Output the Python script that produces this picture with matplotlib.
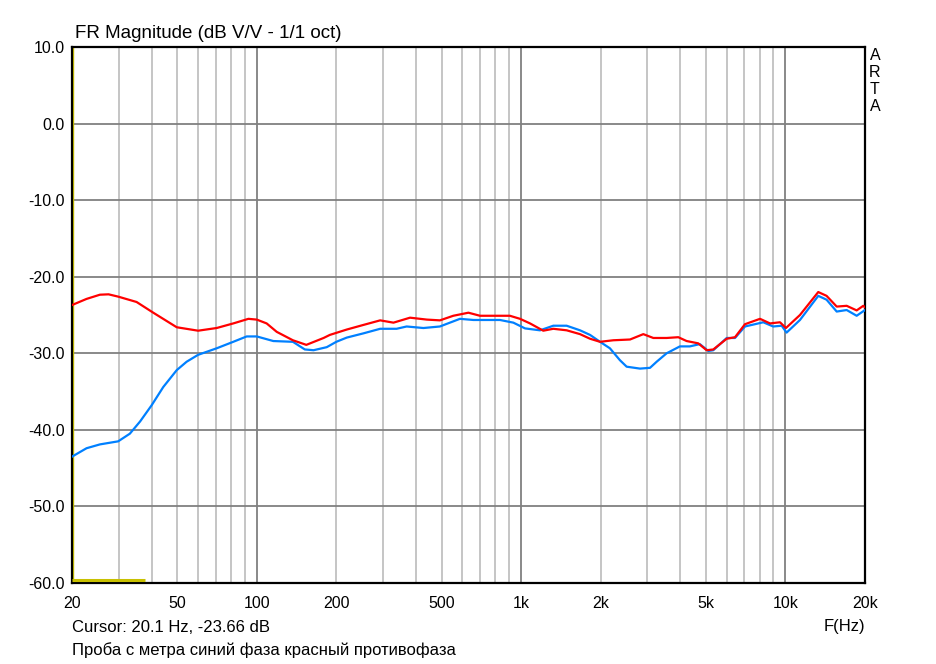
import numpy as np
import matplotlib
matplotlib.use("Agg")
import matplotlib.pyplot as plt

# red trace (counter-phase)
red_f = [20, 22.7, 25.5, 27.5, 29.9, 35.1, 40.6, 49.8, 60, 70.5, 81.5, 93, 100, 109, 119, 137, 154,
         179, 189, 219, 253, 293, 329, 380, 440, 493, 554, 632, 699, 907, 991, 1081, 1213,
         1324, 1487, 1671, 1823, 1989, 2233, 2583, 2900, 3164, 3553, 3933, 4229, 4678, 5035,
         5335, 5996, 6446, 7031, 8016, 8743, 9537, 10045, 11350, 13310, 14310, 15630, 17050,
         18600, 19700, 20000]
red_db = [-23.7, -22.9, -22.35, -22.3, -22.6, -23.3, -24.7, -26.6, -27.05, -26.7, -26.1, -25.5, -25.6,
          -26.1, -27.2, -28.3, -28.9, -28.0, -27.6, -26.9, -26.3, -25.7, -26.0, -25.35, -25.6,
          -25.7, -25.1, -24.7, -25.1, -25.1, -25.5, -26.1, -27.05, -26.8, -27.0, -27.5, -28.1,
          -28.5, -28.3, -28.2, -27.5, -28.0, -28.0, -27.9, -28.4, -28.7, -29.6, -29.5, -28.1,
          -27.9, -26.2, -25.5, -26.1, -25.95, -26.7, -25.0, -22.0, -22.5, -23.9, -23.8, -24.4,
          -23.8, -24.0]

# blue trace (in phase)
blue_f = [20, 22.7, 25.5, 29.9, 33.1, 36.2, 40, 44.3, 49.8, 54.3, 60, 70.5, 81.5, 91.6, 100,
          115.5, 137, 152, 164, 184, 200, 219, 253, 293, 338, 369, 427, 493, 587, 660, 832, 935,
          1035, 1179, 1324, 1487, 1671, 1823, 1989, 2168, 2365, 2508, 2817, 3074, 3258, 3553,
          3988, 4350, 4744, 5110, 5335, 5996, 6446, 7031, 8245, 8990, 9680, 10100, 11350,
          13310, 14310, 15630, 17050, 18600, 20000]
blue_db = [-43.5, -42.4, -41.9, -41.5, -40.5, -38.9, -36.8, -34.4, -32.2, -31.1, -30.2, -29.35,
           -28.5, -27.8, -27.8, -28.4, -28.5, -29.5, -29.6, -29.2, -28.5, -27.95, -27.4, -26.8,
           -26.8, -26.5, -26.7, -26.5, -25.5, -25.65, -25.65, -26.0, -26.75, -27.0, -26.4, -26.4,
           -27.0, -27.6, -28.5, -29.35, -30.9, -31.75, -32.0, -31.9, -31.1, -30.0, -29.1, -29.1,
           -28.8, -29.7, -29.6, -28.0, -28.0, -26.5, -25.95, -26.5, -26.4, -27.3, -25.65, -22.5,
           -23.0, -24.55, -24.35, -25.1, -24.35]

x_ticks = [20, 50, 100, 200, 500, 1000, 2000, 5000, 10000, 20000]
x_labels = ["20", "50", "100", "200", "500", "1k", "2k", "5k", "10k", "20k"]
y_ticks = [10, 0, -10, -20, -30, -40, -50, -60]

cursor_f = 20.1
marker_f = [20, 37.8]
marker_db = [-59.65, -59.65]

plt.rcParams['font.family'] = ['Liberation Sans', 'DejaVu Sans']

fig = plt.figure(figsize=(9.37, 6.64), dpi=100)
ax = fig.add_axes([72 / 937, 1 - 583 / 664, 793 / 937, 536 / 664])
ax.set_xscale("log")
ax.set_xlim(20, 20000)
ax.set_ylim(-60, 10)

# grid
minor = [m * d for d in (10, 100, 1000, 10000) for m in range(1, 10) if 20 <= m * d <= 20000]
for f in minor:
    if f in (100, 1000, 10000):
        ax.axvline(f, color="#808080", lw=1.3, zorder=1)
    else:
        ax.axvline(f, color="#c0c0c0", lw=1.3, zorder=1)
for v in y_ticks:
    ax.axhline(v, color="#808080", lw=1.3, zorder=1)

ax.plot(blue_f, blue_db, color="#0080ff", lw=1.6, zorder=3)
ax.plot(red_f, red_db, color="#ff0000", lw=1.6, zorder=4)
ax.plot(marker_f, marker_db, color="#c8c000", lw=2.2, zorder=3, solid_capstyle="butt")
ax.axvline(cursor_f, color="#c8c000", lw=1.0, zorder=2)

ax.set_xticks(x_ticks)
ax.set_xticklabels(x_labels)
ax.set_xticks([], minor=True)
ax.set_yticks(y_ticks)
ax.set_yticklabels(["%.1f" % v for v in y_ticks])
ax.tick_params(length=0, labelsize=11.5)
ax.tick_params(axis="y", pad=5)
ax.tick_params(axis="x", pad=9)
for s in ax.spines.values():
    s.set_linewidth(1.6)
    s.set_color("black")

fig.text(75 / 937, 1 - 33 / 664, "FR Magnitude (dB V/V - 1/1 oct)", fontsize=13.5,
         ha="left", va="center")
fig.text(875 / 937, 1 - 81 / 664, "A\nR\nT\nA", fontsize=11.5, ha="center", va="center",
         linespacing=1.15)
fig.text(72 / 937, 1 - 627 / 664, "Cursor: 20.1 Hz, -23.66 dB", fontsize=12, ha="left",
         va="center")
fig.text(865 / 937, 1 - 627 / 664, "F(Hz)", fontsize=12, ha="right", va="center")
fig.text(72 / 937, 1 - 650 / 664, "Проба с метра синий фаза красный противофаза",
         fontsize=12, ha="left", va="center")

fig.savefig("out.png", dpi=100)
